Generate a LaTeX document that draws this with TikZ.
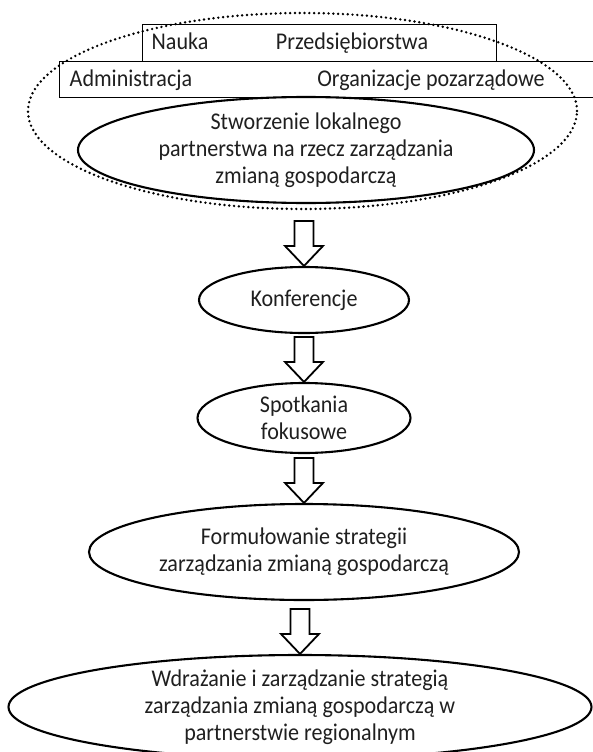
\documentclass[tikz,border=0pt]{standalone}
\usepackage{fontspec}
\setmainfont{Carlito}[FakeStretch=0.92]
\usetikzlibrary{shapes.geometric, calc}

\tikzset{
  etap/.style={draw, ellipse, line width=2.1pt, inner xsep=0pt, inner ysep=-2pt, align=center},
  ramka/.style={draw, line width=0.9pt, inner sep=0pt},
  kropki/.style={draw, ellipse, line width=2.7pt, line cap=round, dash pattern=on 0pt off 4.8pt},
  blok/.style={draw, line width=1.8pt, fill=white, line join=miter},
}
% strzalka blokowa konczaca sie na gorze wezla
\newcommand{\strzalka}[1]{%
  \draw[blok] let \p1=(#1.north) in
    (\x1-9.5pt,\y1+45pt) -- (\x1+9.5pt,\y1+45pt) -- (\x1+9.5pt,\y1+20pt)
    -- (\x1+19pt,\y1+20pt) -- (\x1,\y1) -- (\x1-19pt,\y1+20pt)
    -- (\x1-9.5pt,\y1+20pt) -- cycle;}

\begin{document}
\begin{tikzpicture}[x=1pt, y=-1pt, font=\fontsize{24}{27}\selectfont, text=black!88]
\useasboundingbox (0,0) rectangle (592,752);

% partnerzy
\node[kropki, minimum width=549, minimum height=196] (grupa) at (302.5,111) {};
\node[ramka, minimum width=354, minimum height=37] (gora) at (319,42.5) {};
\node[ramka, minimum width=540, minimum height=36] (dol) at (329,79) {};
\node[anchor=base] (nauka) at (180,50) {Nauka};
\node[anchor=base] (przed) at (352,50) {Przedsiębiorstwa};
\node[anchor=base] (admin) at (131,86) {Administracja};
\node[anchor=base] (ngo) at (431,86) {Organizacje pozarządowe};

% etapy
\node[etap, minimum width=456, minimum height=106] (partner) at (306,150)
  {Stworzenie lokalnego\\partnerstwa na rzecz zarządzania\\zmianą gospodarczą};
\node[etap, minimum width=210, minimum height=66] (konf) at (304,300) {Konferencje};
\node[etap, minimum width=213, minimum height=70] (spot) at (304,418) {Spotkania\\fokusowe};
\node[etap, minimum width=430, minimum height=96] (form) at (304,552)
  {Formułowanie strategii\\zarządzania zmianą gospodarczą};
\node[etap, minimum width=583, minimum height=104] (final) at (300,707)
  {Wdrażanie i zarządzanie strategią\\zarządzania zmianą gospodarczą w\\partnerstwie regionalnym};

% strzalki
\strzalka{konf}
\strzalka{spot}
\strzalka{form}
\strzalka{final}
\end{tikzpicture}
\end{document}
